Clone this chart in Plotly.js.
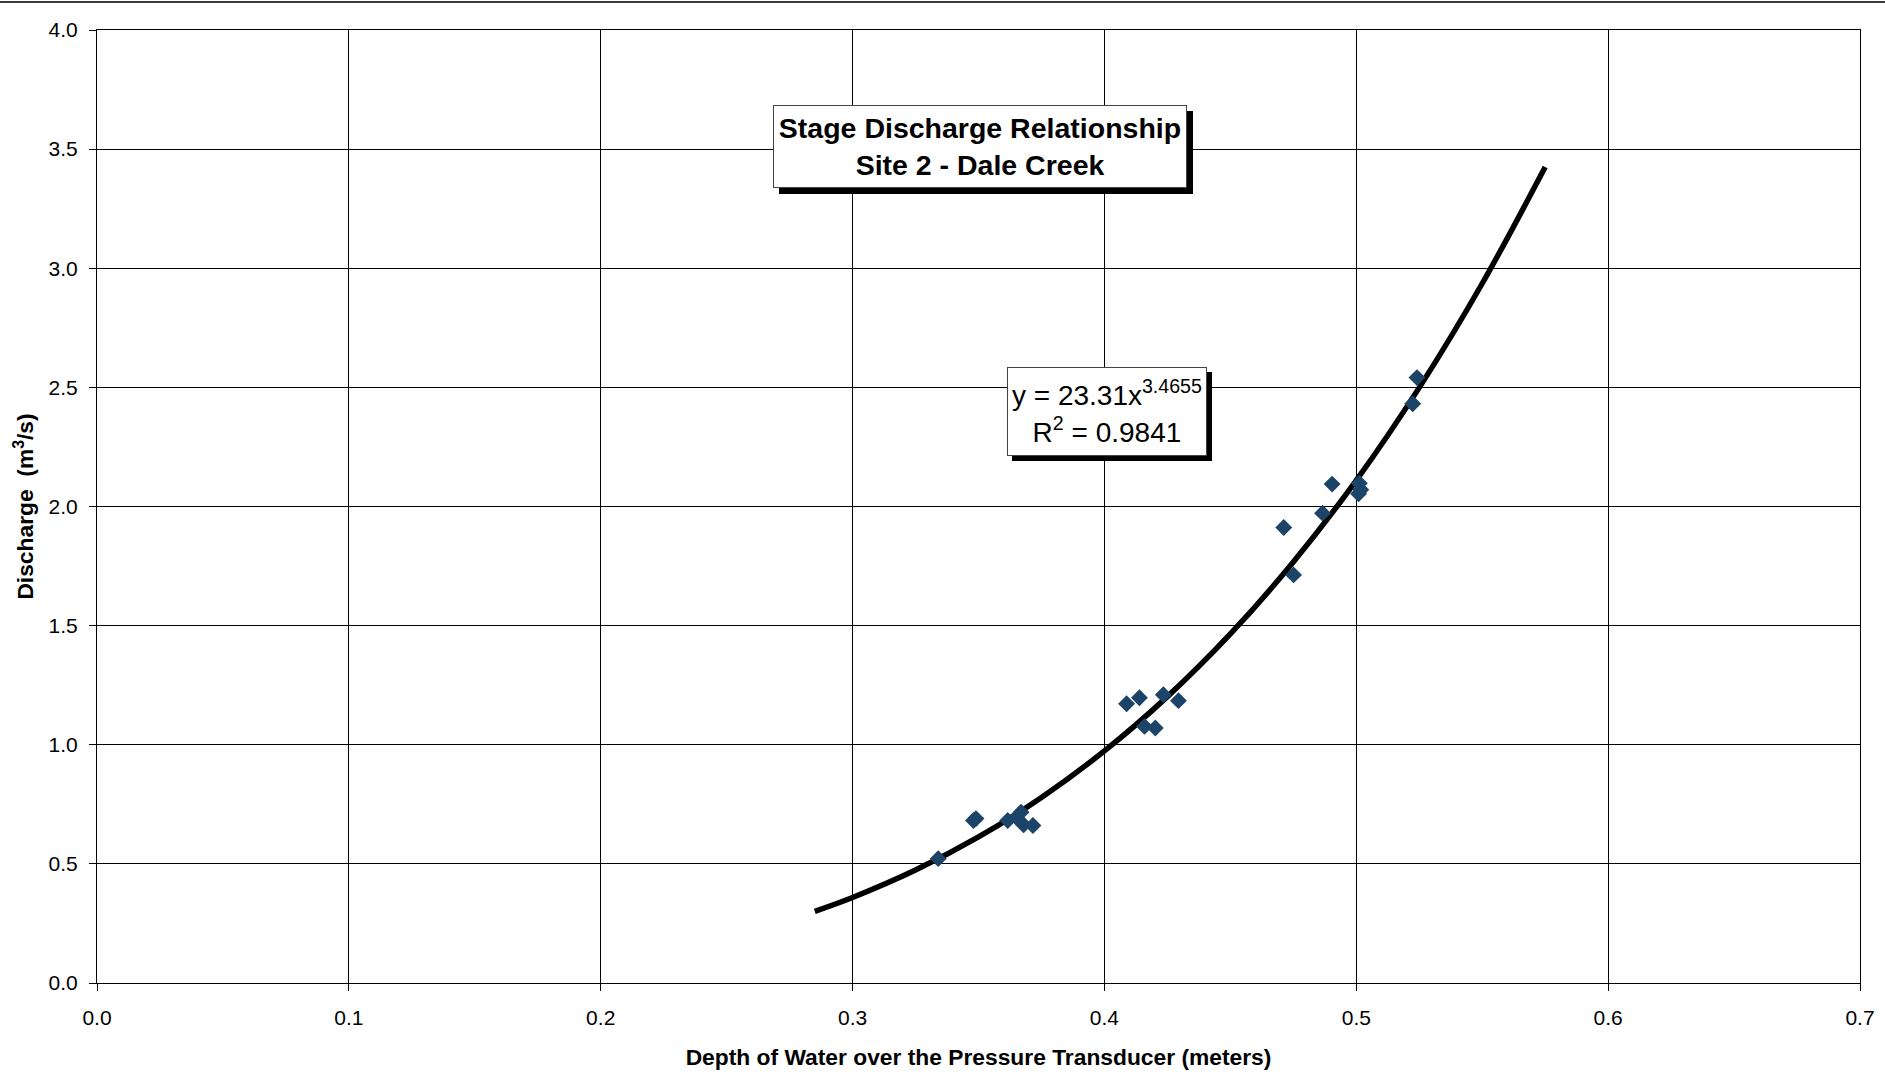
<!DOCTYPE html>
<html>
<head>
<meta charset="utf-8">
<script src="https://cdn.plot.ly/plotly-3.0.1.min.js"></script>
<style>
  html, body { margin: 0; padding: 0; background: #fff; }
  #chart { width: 1885px; height: 1074px; }
  #topline { position: absolute; left: 0; top: 1px; width: 1885px; height: 2px; background: #3a3a3a; z-index: 10; }
</style>
</head>
<body>
<div id="topline"></div>
<div id="chart"></div>
<script>
// Observed stage-discharge measurements
const depth = [0.334, 0.348, 0.349, 0.3616, 0.365, 0.3669, 0.3679, 0.3716,
               0.4088, 0.4139, 0.4159, 0.4202, 0.4234, 0.4294,
               0.4712, 0.4751, 0.4866, 0.4904, 0.5012, 0.5009, 0.5018, 0.5224, 0.5241];
const discharge = [0.522, 0.682, 0.69, 0.682, 0.695, 0.717, 0.664, 0.661,
                   1.172, 1.197, 1.077, 1.070, 1.210, 1.185,
                   1.912, 1.713, 1.972, 2.094, 2.098, 2.053, 2.070, 2.431, 2.541];

// Power trendline
const trendX = [0.285, 0.30, 0.325, 0.35, 0.375, 0.40, 0.425, 0.45, 0.475, 0.50, 0.525, 0.55, 0.575];
const trendY = [0.301, 0.359, 0.474, 0.613, 0.779, 0.974, 1.202, 1.465, 1.767, 2.110, 2.499, 2.936, 3.425];

const xTicks = [0.0, 0.1, 0.2, 0.3, 0.4, 0.5, 0.6, 0.7];
const yTicks = [0.0, 0.5, 1.0, 1.5, 2.0, 2.5, 3.0, 3.5, 4.0];

const chartTitle = '<b>Stage Discharge Relationship</b><br><b>Site 2 - Dale Creek</b>';
const equationText = 'y = 23.31x<sup>3.4655</sup><br>R<sup>2</sup> = 0.9841';
const xTitle = 'Depth of Water over the Pressure Transducer (meters)';
const yTitle = 'Discharge  (m<sup>3</sup>/s)';

const FONT = 'Liberation Sans, Arial, Helvetica, sans-serif';

const traces = [
  {
    x: trendX, y: trendY, type: 'scatter', mode: 'lines',
    line: { color: '#000000', width: 5.5, shape: 'spline' },
    hoverinfo: 'skip', showlegend: false
  },
  {
    x: depth, y: discharge, type: 'scatter', mode: 'markers',
    marker: { symbol: 'diamond', size: 13, color: '#1c4469', line: { width: 0 } },
    showlegend: false
  }
];

const layout = {
  width: 1885, height: 1074,
  paper_bgcolor: '#ffffff', plot_bgcolor: '#ffffff',
  margin: { l: 97, r: 25, t: 30, b: 91, pad: 0 },
  font: { family: FONT, color: '#000000', size: 21 },
  showlegend: false,
  xaxis: {
    range: [0, 0.7], tickvals: xTicks, ticktext: xTicks.map(v => v.toFixed(1)),
    showgrid: true, gridcolor: '#000000', gridwidth: 1,
    showline: true, linecolor: '#000000', linewidth: 1, mirror: true,
    ticks: 'outside', ticklen: 7, tickcolor: '#000000', tickwidth: 1,
    zeroline: false, ticklabelstandoff: 9,
    tickfont: { family: FONT, size: 21, color: '#000' },
    title: { text: '<b>' + xTitle + '</b>', font: { family: FONT, size: 22.8, color: '#000' }, standoff: 20 },
    automargin: false
  },
  yaxis: {
    range: [0, 4.0], tickvals: yTicks, ticktext: yTicks.map(v => v.toFixed(1)),
    showgrid: true, gridcolor: '#000000', gridwidth: 1,
    showline: true, linecolor: '#000000', linewidth: 1, mirror: true,
    ticks: 'outside', ticklen: 7, tickcolor: '#000000', tickwidth: 1,
    zeroline: false, ticklabelstandoff: 7,
    tickfont: { family: FONT, size: 21, color: '#000' },
    title: { text: '<b>' + yTitle + '</b>', font: { family: FONT, size: 22.8, color: '#000' }, standoff: 8 },
    automargin: false
  },
  annotations: [
    // shadow of title box (empty box)
    { xref: 'x', yref: 'y', x: 0.3504, y: 3.511, text: '&nbsp;', showarrow: false,
      font: { family: FONT, size: 28.5, color: '#000' },
      width: 404, height: 73, borderpad: 4, borderwidth: 1, bordercolor: '#000', bgcolor: '#000',
      xshift: 6, yshift: -6 },
    { xref: 'x', yref: 'y', x: 0.3504, y: 3.511, text: chartTitle, showarrow: false,
      font: { family: FONT, size: 28.5, color: '#000' }, align: 'center',
      width: 404, height: 73, borderpad: 4, borderwidth: 1, bordercolor: '#444', bgcolor: '#fff' },
    // shadow of equation box (empty box)
    { xref: 'x', yref: 'y', x: 0.4012, y: 2.40, text: '&nbsp;', showarrow: false,
      font: { family: FONT, size: 28, color: '#000' },
      width: 190, height: 79, borderpad: 4, borderwidth: 1, bordercolor: '#000', bgcolor: '#000',
      xshift: 5, yshift: -5 },
    { xref: 'x', yref: 'y', x: 0.4012, y: 2.40, text: equationText, showarrow: false,
      font: { family: FONT, size: 28, color: '#000' }, align: 'center',
      width: 190, height: 79, borderpad: 4, borderwidth: 1, bordercolor: '#444', bgcolor: '#fff' }
  ]
};

Plotly.newPlot('chart', traces, layout, { displayModeBar: false, staticPlot: true });
</script>
</body>
</html>
